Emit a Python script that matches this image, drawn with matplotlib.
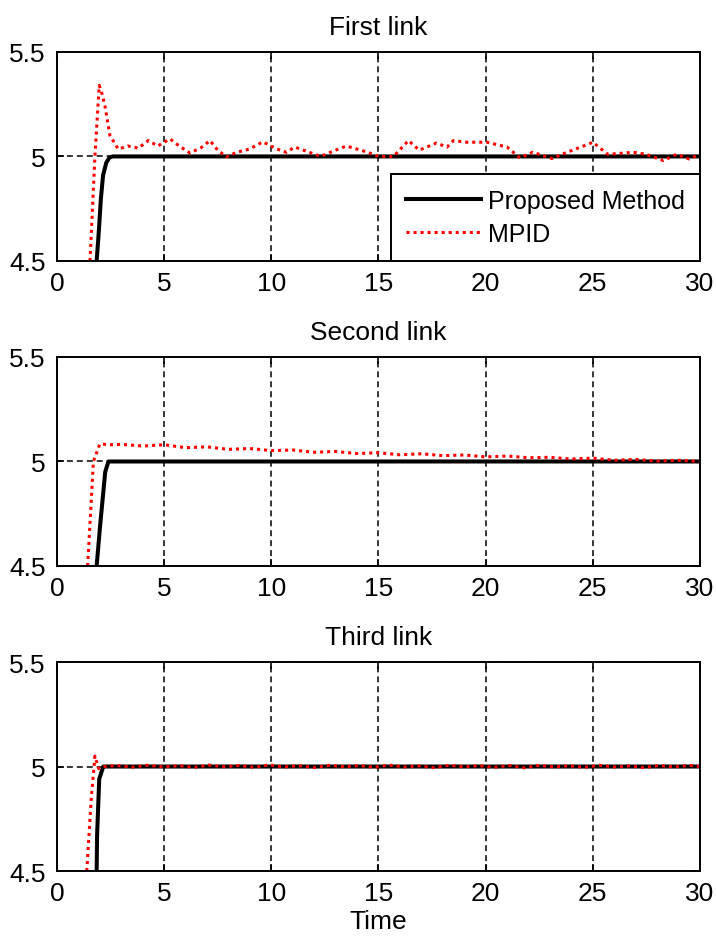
import numpy as np
import matplotlib.pyplot as plt

plt.rcParams['font.family'] = ['Liberation Sans', 'DejaVu Sans']

titles = ["First link", "Second link", "Third link"]
xticks = [0, 5, 10, 15, 20, 25, 30]
yticks = [4.5, 5, 5.5]
ytick_labels = ["4.5", "5", "5.5"]

# Proposed method (black)
t_prop1 = [1.85, 1.95, 2.05, 2.15, 2.3, 2.45, 2.6, 30]
v_prop1 = [4.5, 4.64, 4.8, 4.91, 4.97, 4.995, 5.0, 5.0]
t_prop2 = [1.85, 2.0, 2.13, 2.25, 2.4, 30]
v_prop2 = [4.5, 4.68, 4.82, 4.95, 5.0, 5.0]
t_prop3 = [1.85, 1.87, 1.97, 2.16, 30]
v_prop3 = [4.5, 4.67, 4.94, 5.0, 5.0]

# MPID (red dotted)
t_mpid1 = [1.54, 1.77, 1.97, 2.1, 2.24, 2.47, 2.86, 3.3, 3.8, 4.26, 4.7, 5.27, 5.7,
           6.2, 6.7, 7.14, 7.5, 7.9, 8.4, 9.0, 9.6, 10.25, 10.7, 11.1, 11.5, 12.3,
           13.0, 13.5, 14.5, 15.0, 15.7, 16.4, 16.9, 17.7, 18.2, 18.5, 19.1, 20.05,
           21.0, 21.6, 22.2, 23.1, 23.8, 24.7, 25.0, 25.7, 26.3, 26.9, 27.5, 28.3,
           28.9, 29.5, 30]
v_mpid1 = [4.5, 5.0, 5.34, 5.3, 5.24, 5.1, 5.035, 5.05, 5.04, 5.076, 5.05, 5.084, 5.05,
           5.017, 5.04, 5.076, 5.03, 4.998, 5.02, 5.036, 5.07, 5.036, 5.02, 5.045, 5.03, 5.0,
           5.03, 5.05, 5.02, 5.0, 5.0, 5.076, 5.03, 5.064, 5.045, 5.076, 5.068, 5.068,
           5.045, 4.993, 5.02, 4.99, 5.02, 5.055, 5.068, 5.01, 5.015, 5.02, 5.01, 4.98,
           5.01, 4.988, 5.01]

t_mpid2 = [1.43, 1.7, 2.0, 2.5, 3, 4, 5, 6, 7, 8, 9, 10, 11, 12, 13, 14, 15, 16, 17,
           18, 19, 20, 21, 22, 23, 24, 25, 26, 27, 28, 29, 30]
v_mpid2 = [4.5, 5.0, 5.084, 5.08, 5.082, 5.074, 5.08, 5.066, 5.07, 5.058, 5.062, 5.052,
           5.055, 5.044, 5.048, 5.038, 5.042, 5.032, 5.037, 5.028, 5.031, 5.022, 5.026,
           5.018, 5.02, 5.012, 5.016, 5.006, 5.01, 5.002, 5.006, 5.0]

t_mpid3 = [1.39, 1.6, 1.77, 1.95, 2.2, 2.8, 3.5, 4.2, 5.0, 5.7, 6.4, 7.1, 7.8, 8.5, 9.2,
           9.9, 10.6, 11.3, 12.0, 12.7, 13.4, 14.1, 14.8, 15.5, 16.2, 16.9, 17.6, 18.3,
           19.0, 19.7, 20.4, 21.1, 21.8, 22.5, 23.2, 23.9, 24.6, 25.3, 26.0, 26.7, 27.4,
           28.1, 28.8, 29.5, 30]
v_mpid3 = [4.5, 4.85, 5.05, 4.99, 5.0, 5.005, 4.997, 5.006, 4.998, 5.004, 4.996, 5.007,
           4.999, 5.005, 4.996, 5.008, 4.998, 5.004, 4.995, 5.006, 4.999, 5.005, 4.996,
           5.007, 4.998, 5.003, 4.995, 5.006, 4.999, 5.004, 4.996, 5.005, 4.994, 5.006,
           4.998, 5.004, 4.996, 5.006, 4.998, 5.003, 4.995, 5.005, 4.998, 5.006, 5.0]

prop = [(t_prop1, v_prop1), (t_prop2, v_prop2), (t_prop3, v_prop3)]
mpid = [(t_mpid1, v_mpid1), (t_mpid2, v_mpid2), (t_mpid3, v_mpid3)]

FS = 19
fig = plt.figure(figsize=(7.16, 9.45), dpi=100)
bottoms = [0.7228, 0.4, 0.0772]
for i in range(3):
    ax = fig.add_axes([0.0796, bottoms[i], 0.898, 0.2212])
    ax.plot(prop[i][0], prop[i][1], color='black', lw=2.9, label='Proposed Method')
    ax.plot(mpid[i][0], mpid[i][1], color='red', lw=2.2, linestyle=(0, (1, 1.3)),
            label='MPID')
    ax.set_xlim(0, 30)
    ax.set_ylim(4.5, 5.5)
    ax.set_xticks(xticks)
    ax.set_yticks(yticks)
    ax.set_yticklabels(ytick_labels)
    ax.grid(True, color='black', linestyle=(0, (3.9, 2.6)), lw=1.1)
    ax.tick_params(direction='in', labelsize=FS, length=5, width=1.2,
                   top=True, right=True)
    ax.tick_params(axis='x', pad=7)
    ax.tick_params(axis='y', pad=8)
    for s in ax.spines.values():
        s.set_linewidth(1.4)
    ax.set_title(titles[i], fontsize=FS, pad=13)
    if i == 0:
        leg = ax.legend(loc='lower right', fontsize=18, borderaxespad=0,
                        fancybox=False, framealpha=1, edgecolor='black',
                        handlelength=3.0, handletextpad=0.28, borderpad=0.6,
                        labelspacing=0.35)
        leg.get_frame().set_linewidth(1.4)
    if i == 2:
        ax.set_xlabel('Time', fontsize=FS, labelpad=3)

fig.savefig('out.png', dpi=100)
